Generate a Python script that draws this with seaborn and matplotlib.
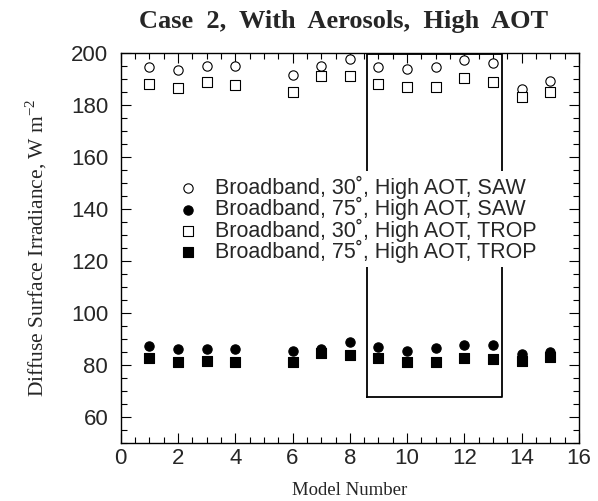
import numpy as np
import pandas as pd
import matplotlib
matplotlib.use("Agg")
import matplotlib.pyplot as plt
import seaborn as sns
from matplotlib.ticker import MultipleLocator

models = [1, 2, 3, 4, 6, 7, 8, 9, 10, 11, 12, 13, 14, 15]
bb30_saw = [194.6, 193.3, 194.9, 194.9, 191.4, 194.9, 197.6, 194.6, 193.7, 194.6, 197.2, 196.2, 185.9, 189.2]
bb75_saw = [87.1, 85.9, 85.9, 85.9, 85.4, 86.2, 88.8, 86.7, 85.2, 86.5, 87.4, 87.5, 84.2, 85.0]
bb30_trop = [187.8, 186.5, 188.7, 187.4, 184.7, 191.1, 191.0, 187.8, 187.0, 187.0, 190.1, 188.6, 183.1, 185.0]
bb75_trop = [82.5, 80.9, 81.6, 80.9, 80.9, 84.5, 83.6, 82.5, 81.2, 81.2, 82.5, 82.1, 81.6, 82.8]
labels = ["Broadband, 30˚, High AOT, SAW",
          "Broadband, 75˚, High AOT, SAW",
          "Broadband, 30˚, High AOT, TROP",
          "Broadband, 75˚, High AOT, TROP"]
box_x = [8.6, 13.3]
box_y = [67.5, 199.4]

sns.set_style("white")
plt.rcParams['font.family'] = ['Liberation Sans', 'DejaVu Sans']
plt.rcParams['mathtext.fontset'] = 'custom'
plt.rcParams['mathtext.rm'] = 'Liberation Serif'

fig = plt.figure(figsize=(5.98, 5.01), dpi=100)
ax = fig.add_axes([0.2018, 0.1164, 0.7664, 0.7784])

series = [bb30_saw, bb75_saw, bb30_trop, bb75_trop]
markers = ['o', 'o', 's', 's']
faces = ['white', 'black', 'white', 'black']
sizes = [45, 45, 50, 50]
for vals, m, fc, s, lab in zip(series, markers, faces, sizes, labels):
    df = pd.DataFrame({'x': models, 'y': vals})
    sns.scatterplot(data=df, x='x', y='y', marker=m, s=s, facecolor=fc,
                    edgecolor='black', linewidth=0.8, ax=ax, label=lab, zorder=3)

ax.plot([box_x[0], box_x[0], box_x[1], box_x[1], box_x[0]],
        [box_y[0], box_y[1], box_y[1], box_y[0], box_y[0]], color='black', lw=1.3, zorder=1)

ax.set_xlim(0, 16)
ax.set_ylim(50, 200)
ax.xaxis.set_major_locator(MultipleLocator(2))
ax.xaxis.set_minor_locator(MultipleLocator(0.5))
ax.yaxis.set_major_locator(MultipleLocator(20))
ax.yaxis.set_minor_locator(MultipleLocator(5))
ax.set_yticks([60, 80, 100, 120, 140, 160, 180, 200])
ax.tick_params(which='both', direction='in', top=True, right=True, bottom=True, left=True,
               color='black', width=0.8)
ax.tick_params(which='major', length=7, labelsize=16)
ax.tick_params(axis='y', which='major', pad=9)
ax.tick_params(axis='x', which='major', pad=4)
ax.tick_params(which='minor', length=4)
for sp in ax.spines.values():
    sp.set_color('black')
    sp.set_linewidth(1.0)

ax.set_xlabel("Model Number", family=['Liberation Serif'], fontsize=13.5, labelpad=9)
ax.set_ylabel(r"Diffuse Surface Irradiance, W m$^{\mathrm{-2}}$", family=['Liberation Serif'],
              fontsize=15.5, labelpad=16)
fig.text(0.5744, 0.958, "Case  2,  With  Aerosols,  High  AOT", family=['Liberation Serif'],
         fontweight='bold', fontsize=19, ha='center', va='center')

leg = ax.legend(frameon=True, loc='upper left', bbox_to_anchor=(0.290, 0.658),
                bbox_transform=fig.transFigure, borderaxespad=0, borderpad=0.2,
                handlelength=1.0, handletextpad=0.75, labelspacing=-0.08, fontsize=15.5,
                facecolor='white', edgecolor='none', framealpha=1.0, fancybox=False)
leg.set_zorder(5)

fig.savefig("out.png", dpi=100)
